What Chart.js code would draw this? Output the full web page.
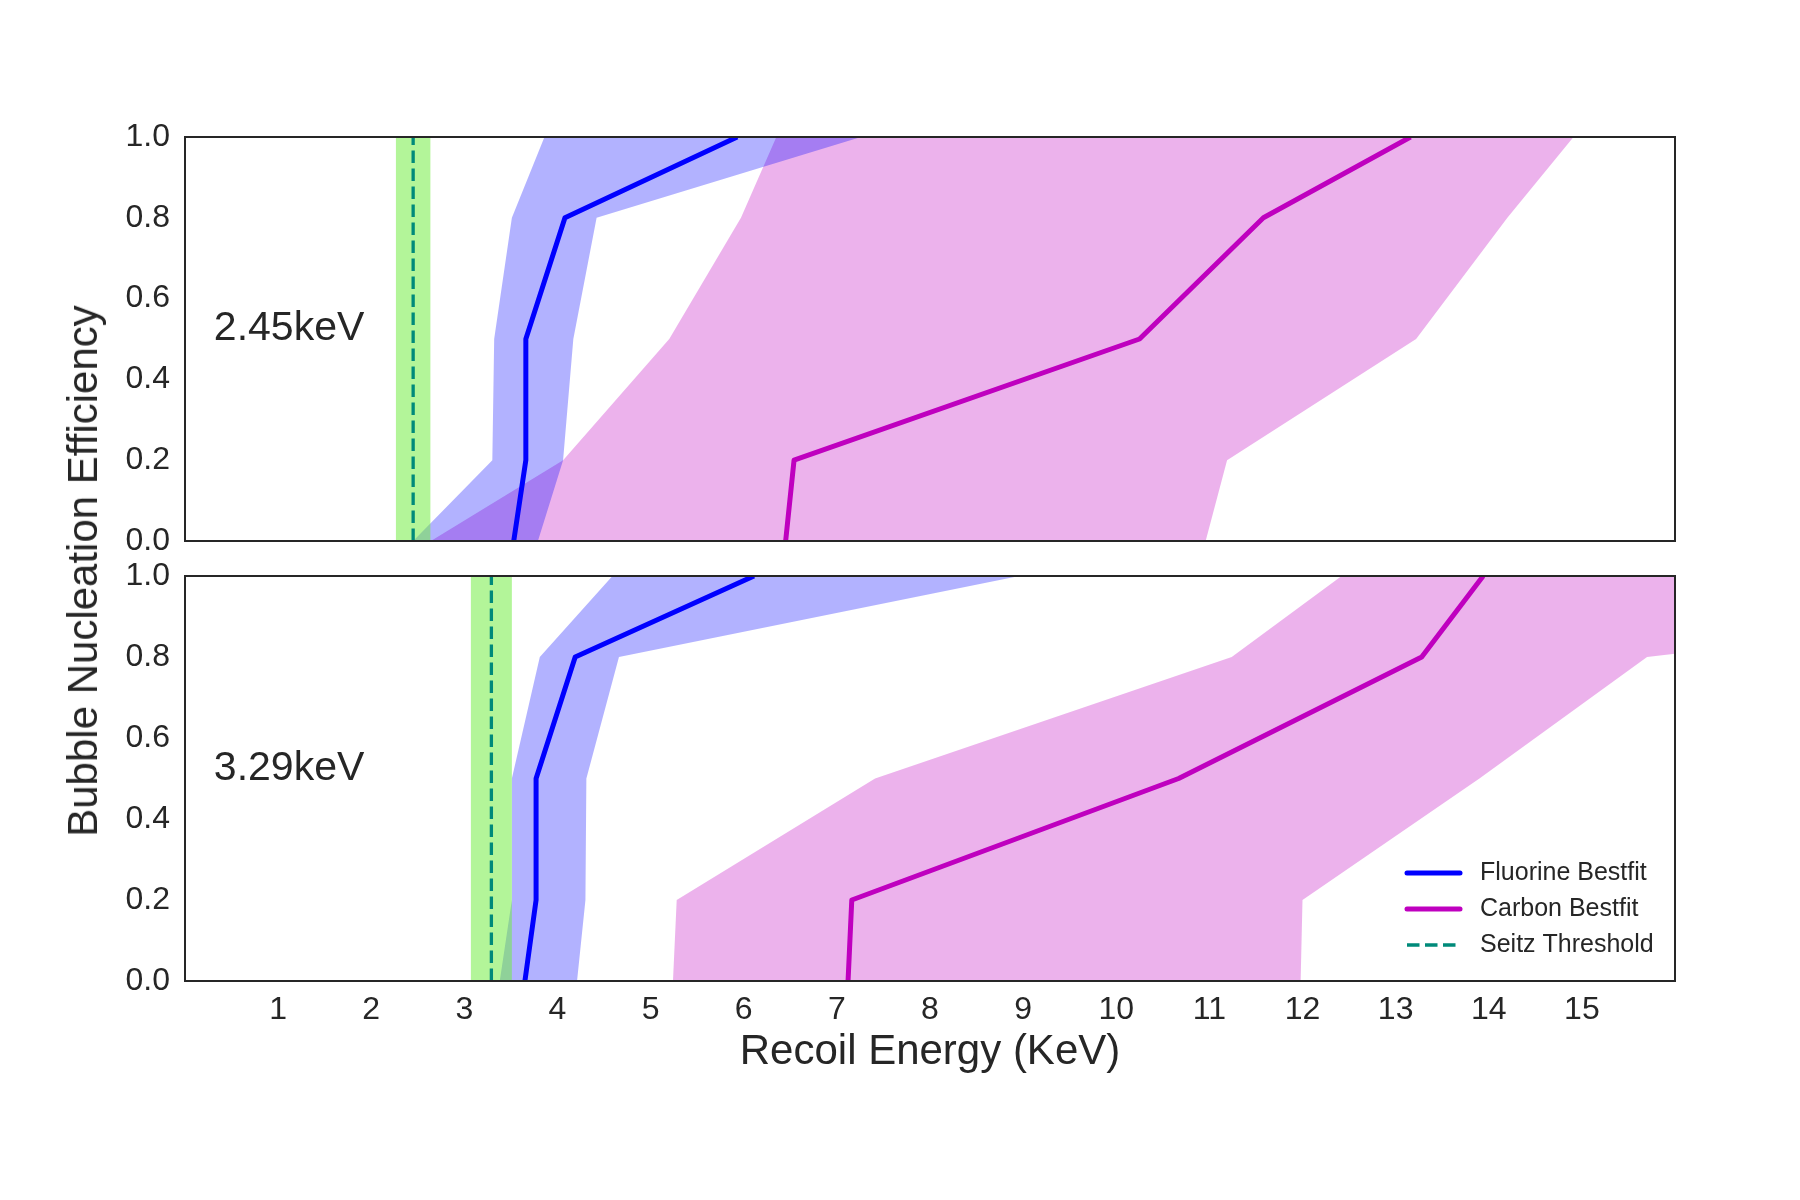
<!DOCTYPE html>
<html lang="en">
<head>
    <meta charset="UTF-8">
    <title>Bubble Nucleation Efficiency</title>
    <script src="https://cdn.jsdelivr.net/npm/chart.js"></script>
    <style>
        body {
            margin: 0;
            background: #ffffff;
            font-family: "Liberation Sans", Arial, sans-serif;
        }

        .figure {
            position: relative;
            width: 1800px;
            height: 1200px;
        }

        .panel {
            position: absolute;
            left: 0;
            width: 1800px;
        }

        .ylabel {
            position: absolute;
            left: 83px;
            top: 571px;
            transform: translate(-50%, -50%) rotate(-90deg);
            white-space: nowrap;
            font-size: 42px;
            color: #262626;
        }
    </style>
</head>
<body>

<div class="figure">
    <div class="panel" style="top: 0; height: 577px;"><canvas id="topChart"></canvas></div>
    <div class="panel" style="top: 540px; height: 660px;"><canvas id="bottomChart"></canvas></div>
    <div class="ylabel">Bubble Nucleation Efficiency</div>
</div>

<script>
    // efficiency levels shared by every curve
    const effLevels = [0, 0.2, 0.5, 0.8, 1.0];

    // recoil energies (keV) at each efficiency level, 2.45 keV threshold run
    const fluorineFit245 = [3.53, 3.66, 3.66, 4.08, 5.93];
    const fluorineLow245 = [2.45, 3.30, 3.32, 3.51, 3.86];
    const fluorineHigh245 = [3.79, 4.06, 4.17, 4.42, 7.26];
    const carbonFit245 = [6.45, 6.54, 10.25, 11.58, 13.16];
    const carbonLow245 = [2.64, 4.06, 5.20, 5.97, 6.35];
    const carbonHigh245 = [10.96, 11.19, 13.22, 14.20, 14.91];

    // 3.29 keV threshold run
    const fluorineFit329 = [3.65, 3.77, 3.77, 4.19, 6.11];
    const fluorineLow329 = [3.38, 3.51, 3.51, 3.81, 4.59];
    const fluorineHigh329 = [4.21, 4.30, 4.31, 4.66, 8.96];
    const carbonFit329 = [7.12, 7.16, 10.67, 13.28, 13.94];
    const carbonLow329 = [5.24, 5.28, 7.41, 11.24, 12.42];
    const carbonHigh329 = [11.98, 12.00, 13.90, 15.70, 23.00];

    // Seitz threshold and its uncertainty band
    const seitzThreshold = [2.45, 3.29];
    const seitzError = [0.185, 0.22];
    const panelLabels = ['2.45keV', '3.29keV'];

    const xTicks = [1, 2, 3, 4, 5, 6, 7, 8, 9, 10, 11, 12, 13, 14, 15];

    const FONT = '"Liberation Sans", Arial, sans-serif';
    const TEXT = '#262626';
    const BLUE = '#0000ff';
    const MAGENTA = '#bf00bf';
    const TEAL = '#008a7a';

    function curve(xs) {
        return xs.map((x, i) => ({ x: x, y: effLevels[i] }));
    }

    // closed outline: up the low edge, back down the high edge
    function band(low, high) {
        return curve(low).concat(curve(high).reverse());
    }

    function buildDatasets(p) {
        const fl = [fluorineFit245, fluorineFit329][p];
        const flLo = [fluorineLow245, fluorineLow329][p];
        const flHi = [fluorineHigh245, fluorineHigh329][p];
        const cb = [carbonFit245, carbonFit329][p];
        const cbLo = [carbonLow245, carbonLow329][p];
        const cbHi = [carbonHigh245, carbonHigh329][p];
        const s = seitzThreshold[p], e = seitzError[p];

        const bandStyle = { borderWidth: 0, borderColor: 'transparent', pointRadius: 0, fill: 'shape' };
        return [
            { label: 'Seitz Threshold', data: [{ x: s, y: 0 }, { x: s, y: 1 }], borderColor: TEAL,
              borderWidth: 3.3, borderDash: [12.5, 5.5], pointRadius: 0, fill: false, order: 0 },
            { label: 'Fluorine Bestfit', data: curve(fl), borderColor: BLUE, borderWidth: 5,
              pointRadius: 0, fill: false, borderJoinStyle: 'round', order: 1 },
            { label: 'Carbon Bestfit', data: curve(cb), borderColor: MAGENTA, borderWidth: 5,
              pointRadius: 0, fill: false, borderJoinStyle: 'round', order: 2 },
            Object.assign({ data: [{ x: s - e, y: 0 }, { x: s - e, y: 1 }, { x: s + e, y: 1 }, { x: s + e, y: 0 }],
              backgroundColor: 'rgba(110,236,60,0.52)', order: 3 }, bandStyle),
            Object.assign({ data: band(flLo, flHi), backgroundColor: 'rgba(0,0,255,0.3)', order: 4 }, bandStyle),
            Object.assign({ data: band(cbLo, cbHi), backgroundColor: 'rgba(191,0,191,0.3)', order: 5 }, bandStyle)
        ];
    }

    // box round each panel plus the energy label
    const panelDecor = {
        id: 'panelDecor',
        afterDraw(chart, args, opts) {
            const { ctx, chartArea: a, scales } = chart;
            ctx.save();
            ctx.fillStyle = TEXT;
            ctx.font = '41px ' + FONT;
            ctx.textAlign = 'left';
            ctx.textBaseline = 'middle';
            ctx.fillText(opts.text, scales.x.getPixelForValue(0.31), scales.y.getPixelForValue(0.525));
            ctx.strokeStyle = TEXT;
            ctx.lineWidth = 2;
            ctx.strokeRect(a.left, a.top, a.right - a.left, a.bottom - a.top);
            ctx.restore();
        }
    };

    // legend inside the lower right corner of the lower panel
    const insetLegend = {
        id: 'insetLegend',
        afterDraw(chart, args, opts) {
            if (!opts.show) return;
            const { ctx, chartArea: a } = chart;
            const items = chart.data.datasets.filter(d => d.label);
            const order = ['Fluorine Bestfit', 'Carbon Bestfit', 'Seitz Threshold'];
            ctx.save();
            ctx.font = '25px ' + FONT;
            ctx.textBaseline = 'middle';
            order.forEach((name, i) => {
                const d = items.find(it => it.label === name);
                const y = a.bottom - 108 + i * 36;
                ctx.strokeStyle = d.borderColor;
                ctx.lineWidth = d.borderWidth;
                ctx.lineCap = d.borderDash ? 'butt' : 'round';
                ctx.setLineDash(d.borderDash || []);
                ctx.beginPath();
                ctx.moveTo(a.right - 268, y);
                ctx.lineTo(a.right - 215, y);
                ctx.stroke();
                ctx.setLineDash([]);
                ctx.fillStyle = TEXT;
                ctx.fillText(name, a.right - 195, y);
            });
            ctx.restore();
        }
    };

    function makeChart(id, p, isBottom) {
        const ctx = document.getElementById(id).getContext('2d');
        return new Chart(ctx, {
            type: 'line',
            data: { datasets: buildDatasets(p) },
            plugins: [panelDecor, insetLegend],
            options: {
                responsive: true,
                maintainAspectRatio: false,
                animation: false,
                events: [],
                layout: {
                    padding: isBottom ? { top: 36, right: 125, bottom: 0, left: 0 }
                                      : { top: 137, right: 125, bottom: 36, left: 0 }
                },
                elements: { line: { tension: 0 } },
                scales: {
                    x: {
                        type: 'linear',
                        min: 0,
                        max: 16,
                        display: isBottom,
                        grid: { display: false, drawTicks: false },
                        border: { display: false },
                        afterBuildTicks: axis => { axis.ticks = xTicks.map(v => ({ value: v })); },
                        afterFit: axis => { if (isBottom) axis.height = 219; },
                        ticks: {
                            autoSkip: false,
                            maxRotation: 0,
                            padding: 10,
                            color: TEXT,
                            font: { family: FONT, size: 32 }
                        },
                        title: {
                            display: true,
                            text: 'Recoil Energy (KeV)',
                            color: TEXT,
                            font: { family: FONT, size: 42 },
                            padding: { top: 0, bottom: 122 }
                        }
                    },
                    y: {
                        min: 0,
                        max: 1,
                        grid: { display: false, drawTicks: false },
                        border: { display: false },
                        afterFit: axis => { axis.width = 185; },
                        ticks: {
                            stepSize: 0.2,
                            padding: 15,
                            color: TEXT,
                            font: { family: FONT, size: 32 },
                            callback: v => v.toFixed(1)
                        }
                    }
                },
                plugins: {
                    legend: { display: false },
                    tooltip: { enabled: false },
                    panelDecor: { text: panelLabels[p] },
                    insetLegend: { show: isBottom }
                }
            }
        });
    }

    makeChart('topChart', 0, false);
    makeChart('bottomChart', 1, true);
</script>
</body>
</html>
